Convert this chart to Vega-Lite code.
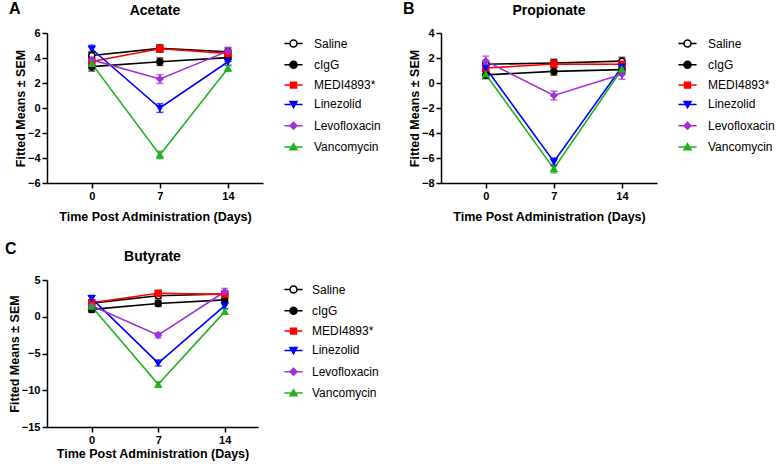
{
  "$schema": "https://vega.github.io/schema/vega-lite/v6.json",
  "background": "white",
  "padding": {"left": 5, "top": 1, "right": 0, "bottom": 2},
  "datasets": {
    "acetate": [
      {"series": "Saline", "day": 0, "mean": 4.2, "sem": 0.3},
      {"series": "Saline", "day": 7, "mean": 4.77, "sem": 0.3},
      {"series": "Saline", "day": 14, "mean": 4.5, "sem": 0.3},
      {"series": "cIgG", "day": 0, "mean": 3.31, "sem": 0.35},
      {"series": "cIgG", "day": 7, "mean": 3.7, "sem": 0.3},
      {"series": "cIgG", "day": 14, "mean": 4.03, "sem": 0.3},
      {"series": "MEDI4893*", "day": 0, "mean": 3.72, "sem": 0.3},
      {"series": "MEDI4893*", "day": 7, "mean": 4.74, "sem": 0.25},
      {"series": "MEDI4893*", "day": 14, "mean": 4.37, "sem": 0.25},
      {"series": "Linezolid", "day": 0, "mean": 4.72, "sem": 0.3},
      {"series": "Linezolid", "day": 7, "mean": 0.0, "sem": 0.35},
      {"series": "Linezolid", "day": 14, "mean": 3.7, "sem": 0.3},
      {"series": "Levofloxacin", "day": 0, "mean": 3.85, "sem": 0.3},
      {"series": "Levofloxacin", "day": 7, "mean": 2.32, "sem": 0.35},
      {"series": "Levofloxacin", "day": 14, "mean": 4.55, "sem": 0.3},
      {"series": "Vancomycin", "day": 0, "mean": 3.55, "sem": 0.3},
      {"series": "Vancomycin", "day": 7, "mean": -3.76, "sem": 0.3},
      {"series": "Vancomycin", "day": 14, "mean": 3.18, "sem": 0.25}
    ],
    "propionate": [
      {"series": "Saline", "day": 0, "mean": 1.5, "sem": 0.3},
      {"series": "Saline", "day": 7, "mean": 1.6, "sem": 0.3},
      {"series": "Saline", "day": 14, "mean": 1.75, "sem": 0.3},
      {"series": "cIgG", "day": 0, "mean": 0.65, "sem": 0.3},
      {"series": "cIgG", "day": 7, "mean": 0.93, "sem": 0.3},
      {"series": "cIgG", "day": 14, "mean": 1.07, "sem": 0.3},
      {"series": "MEDI4893*", "day": 0, "mean": 1.2, "sem": 0.25},
      {"series": "MEDI4893*", "day": 7, "mean": 1.52, "sem": 0.25},
      {"series": "MEDI4893*", "day": 14, "mean": 1.5, "sem": 0.25},
      {"series": "Linezolid", "day": 0, "mean": 1.2, "sem": 0.3},
      {"series": "Linezolid", "day": 7, "mean": -6.3, "sem": 0.3},
      {"series": "Linezolid", "day": 14, "mean": 1.3, "sem": 0.3},
      {"series": "Levofloxacin", "day": 0, "mean": 1.75, "sem": 0.4},
      {"series": "Levofloxacin", "day": 7, "mean": -1.0, "sem": 0.35},
      {"series": "Levofloxacin", "day": 14, "mean": 0.7, "sem": 0.4},
      {"series": "Vancomycin", "day": 0, "mean": 0.7, "sem": 0.3},
      {"series": "Vancomycin", "day": 7, "mean": -6.85, "sem": 0.35},
      {"series": "Vancomycin", "day": 14, "mean": 1.1, "sem": 0.3}
    ],
    "butyrate": [
      {"series": "Saline", "day": 0, "mean": 1.85, "sem": 0.4},
      {"series": "Saline", "day": 7, "mean": 2.85, "sem": 0.4},
      {"series": "Saline", "day": 14, "mean": 3.1, "sem": 0.4},
      {"series": "cIgG", "day": 0, "mean": 1.0, "sem": 0.4},
      {"series": "cIgG", "day": 7, "mean": 1.8, "sem": 0.4},
      {"series": "cIgG", "day": 14, "mean": 2.3, "sem": 0.4},
      {"series": "MEDI4893*", "day": 0, "mean": 1.9, "sem": 0.35},
      {"series": "MEDI4893*", "day": 7, "mean": 3.2, "sem": 0.35},
      {"series": "MEDI4893*", "day": 14, "mean": 3.05, "sem": 0.35},
      {"series": "Linezolid", "day": 0, "mean": 2.5, "sem": 0.4},
      {"series": "Linezolid", "day": 7, "mean": -6.3, "sem": 0.4},
      {"series": "Linezolid", "day": 14, "mean": 1.5, "sem": 0.4},
      {"series": "Levofloxacin", "day": 0, "mean": 1.5, "sem": 0.35},
      {"series": "Levofloxacin", "day": 7, "mean": -2.5, "sem": 0.35},
      {"series": "Levofloxacin", "day": 14, "mean": 3.4, "sem": 0.45},
      {"series": "Vancomycin", "day": 0, "mean": 1.4, "sem": 0.35},
      {"series": "Vancomycin", "day": 7, "mean": -9.2, "sem": 0.35},
      {"series": "Vancomycin", "day": 14, "mean": 0.7, "sem": 0.35}
    ]
  },
  "spacing": 18,
  "vconcat": [
    {
      "spacing": 21,
      "hconcat": [
        {
          "width": 216, "height": 150,
          "title": {"text": "Acetate", "anchor": "middle", "frame": "group", "offset": 0, "dy": 31, "baseline": "bottom"},
          "layer": [
            {
              "data": {"name": "acetate"},
              "resolve": {"scale": {"color": "independent", "fill": "independent", "stroke": "independent", "shape": "independent"}},
              "encoding": {
                "x": {"field": "day", "type": "quantitative", "scale": {"domain": [-4.6, 17.6], "nice": false, "zero": false}, "axis": {"values": [0, 7, 14], "tickCount": 20, "format": "d", "title": "Time Post Administration  (Days)"}},
                "y": {"field": "mean", "type": "quantitative", "scale": {"domain": [-6, 6], "nice": false, "zero": false}, "axis": {"values": [-6, -4, -2, 0, 2, 4, 6], "tickCount": 20, "format": "d", "title": "Fitted  Means ± SEM", "titlePadding": 0}}
              },
              "layer": [
                {"mark": {"type": "line", "strokeWidth": 1.6}, "encoding": {"color": {"field": "series", "type": "nominal", "scale": {"domain": ["Saline", "cIgG", "MEDI4893*", "Linezolid", "Levofloxacin", "Vancomycin"], "range": ["#000000", "#000000", "#FF0000", "#0000FF", "#A030D8", "#20B020"]}, "legend": null}}},
                {"mark": {"type": "errorbar", "thickness": 1.5, "ticks": {"size": 7, "thickness": 1.5}}, "encoding": {"yError": {"field": "sem"}, "color": {"field": "series", "type": "nominal", "scale": {"domain": ["Saline", "cIgG", "MEDI4893*", "Linezolid", "Levofloxacin", "Vancomycin"], "range": ["#000000", "#000000", "#FF0000", "#0000FF", "#A030D8", "#20B020"]}, "legend": null}}},
                {"mark": {"type": "point", "filled": true, "size": 36, "strokeWidth": 1.5, "opacity": 1}, "encoding": {
                  "shape": {"field": "series", "type": "nominal", "scale": {"domain": ["Saline", "cIgG", "MEDI4893*", "Linezolid", "Levofloxacin", "Vancomycin"], "range": ["circle", "circle", "square", "triangle-down", "diamond", "triangle-up"]}, "legend": null},
                  "fill": {"field": "series", "type": "nominal", "scale": {"domain": ["Saline", "cIgG", "MEDI4893*", "Linezolid", "Levofloxacin", "Vancomycin"], "range": ["#FFFFFF", "#000000", "#FF0000", "#0000FF", "#A030D8", "#20B020"]}, "legend": null},
                  "stroke": {"field": "series", "type": "nominal", "scale": {"domain": ["Saline", "cIgG", "MEDI4893*", "Linezolid", "Levofloxacin", "Vancomycin"], "range": ["#000000", "#000000", "#FF0000", "#0000FF", "#A030D8", "#20B020"]}, "legend": null}
                }},
                {"transform": [{"filter": "datum.day < 0"}], "mark": {"type": "point", "filled": true, "size": 49, "strokeWidth": 1.5, "opacity": 1}, "encoding": {
                  "shape": {"field": "series", "type": "nominal", "scale": {"domain": ["Saline", "cIgG", "MEDI4893*", "Linezolid", "Levofloxacin", "Vancomycin"], "range": ["M-2.6,0H-1M1,0H2.6M1,0A1,1,0,1,1,-1,0A1,1,0,1,1,1,0Z", "M-2.6,0H2.6M1,0A1,1,0,1,1,-1,0A1,1,0,1,1,1,0Z", "M-2.6,0H2.6M-0.85,-0.85H0.85V0.85H-0.85Z", "M-2.6,0H2.6M-1,-0.8H1L0,0.95Z", "M-2.6,0H2.6M0,-1L1,0L0,1L-1,0Z", "M-2.6,0H2.6M0,-0.95L1,0.8H-1Z"]}, "legend": {"orient": "none", "legendX": 240.5, "legendY": 4.5, "title": null, "symbolSize": 49, "symbolStrokeWidth": 1.5, "labelOffset": 14.5, "rowPadding": 7.3}},
                  "fill": {"field": "series", "type": "nominal", "scale": {"domain": ["Saline", "cIgG", "MEDI4893*", "Linezolid", "Levofloxacin", "Vancomycin"], "range": ["#FFFFFF", "#000000", "#FF0000", "#0000FF", "#A030D8", "#20B020"]}, "legend": {"orient": "none", "legendX": 240.5, "legendY": 4.5, "title": null, "symbolSize": 49, "symbolStrokeWidth": 1.5, "labelOffset": 14.5, "rowPadding": 7.3}},
                  "stroke": {"field": "series", "type": "nominal", "scale": {"domain": ["Saline", "cIgG", "MEDI4893*", "Linezolid", "Levofloxacin", "Vancomycin"], "range": ["#000000", "#000000", "#FF0000", "#0000FF", "#A030D8", "#20B020"]}, "legend": {"orient": "none", "legendX": 240.5, "legendY": 4.5, "title": null, "symbolSize": 49, "symbolStrokeWidth": 1.5, "labelOffset": 14.5, "rowPadding": 7.3}}
                }}
              ]
            },
            {"data": {"values": [{"letter": "A"}]}, "mark": {"type": "text", "align": "left", "baseline": "top", "dx": -38, "dy": -32, "fontSize": 16, "fontWeight": "bold", "color": "black"}, "encoding": {"x": {"datum": -4.6, "type": "quantitative"}, "y": {"datum": 6, "type": "quantitative"}, "text": {"field": "letter"}}}
          ]
        },
        {
          "width": 216, "height": 150,
          "title": {"text": "Propionate", "anchor": "middle", "frame": "group", "offset": 0, "dy": 31, "baseline": "bottom"},
          "layer": [
            {
              "data": {"name": "propionate"},
              "resolve": {"scale": {"color": "independent", "fill": "independent", "stroke": "independent", "shape": "independent"}},
              "encoding": {
                "x": {"field": "day", "type": "quantitative", "scale": {"domain": [-4.6, 17.6], "nice": false, "zero": false}, "axis": {"values": [0, 7, 14], "tickCount": 20, "format": "d", "title": "Time Post Administration  (Days)"}},
                "y": {"field": "mean", "type": "quantitative", "scale": {"domain": [-8, 4], "nice": false, "zero": false}, "axis": {"values": [-8, -6, -4, -2, 0, 2, 4], "tickCount": 20, "format": "d", "title": "Fitted  Means ± SEM", "titlePadding": 0}}
              },
              "layer": [
                {"mark": {"type": "line", "strokeWidth": 1.6}, "encoding": {"color": {"field": "series", "type": "nominal", "scale": {"domain": ["Saline", "cIgG", "MEDI4893*", "Linezolid", "Levofloxacin", "Vancomycin"], "range": ["#000000", "#000000", "#FF0000", "#0000FF", "#A030D8", "#20B020"]}, "legend": null}}},
                {"mark": {"type": "errorbar", "thickness": 1.5, "ticks": {"size": 7, "thickness": 1.5}}, "encoding": {"yError": {"field": "sem"}, "color": {"field": "series", "type": "nominal", "scale": {"domain": ["Saline", "cIgG", "MEDI4893*", "Linezolid", "Levofloxacin", "Vancomycin"], "range": ["#000000", "#000000", "#FF0000", "#0000FF", "#A030D8", "#20B020"]}, "legend": null}}},
                {"mark": {"type": "point", "filled": true, "size": 36, "strokeWidth": 1.5, "opacity": 1}, "encoding": {
                  "shape": {"field": "series", "type": "nominal", "scale": {"domain": ["Saline", "cIgG", "MEDI4893*", "Linezolid", "Levofloxacin", "Vancomycin"], "range": ["circle", "circle", "square", "triangle-down", "diamond", "triangle-up"]}, "legend": null},
                  "fill": {"field": "series", "type": "nominal", "scale": {"domain": ["Saline", "cIgG", "MEDI4893*", "Linezolid", "Levofloxacin", "Vancomycin"], "range": ["#FFFFFF", "#000000", "#FF0000", "#0000FF", "#A030D8", "#20B020"]}, "legend": null},
                  "stroke": {"field": "series", "type": "nominal", "scale": {"domain": ["Saline", "cIgG", "MEDI4893*", "Linezolid", "Levofloxacin", "Vancomycin"], "range": ["#000000", "#000000", "#FF0000", "#0000FF", "#A030D8", "#20B020"]}, "legend": null}
                }},
                {"transform": [{"filter": "datum.day < 0"}], "mark": {"type": "point", "filled": true, "size": 49, "strokeWidth": 1.5, "opacity": 1}, "encoding": {
                  "shape": {"field": "series", "type": "nominal", "scale": {"domain": ["Saline", "cIgG", "MEDI4893*", "Linezolid", "Levofloxacin", "Vancomycin"], "range": ["M-2.6,0H-1M1,0H2.6M1,0A1,1,0,1,1,-1,0A1,1,0,1,1,1,0Z", "M-2.6,0H2.6M1,0A1,1,0,1,1,-1,0A1,1,0,1,1,1,0Z", "M-2.6,0H2.6M-0.85,-0.85H0.85V0.85H-0.85Z", "M-2.6,0H2.6M-1,-0.8H1L0,0.95Z", "M-2.6,0H2.6M0,-1L1,0L0,1L-1,0Z", "M-2.6,0H2.6M0,-0.95L1,0.8H-1Z"]}, "legend": {"orient": "none", "legendX": 240.5, "legendY": 4.5, "title": null, "symbolSize": 49, "symbolStrokeWidth": 1.5, "labelOffset": 14.5, "rowPadding": 7.3}},
                  "fill": {"field": "series", "type": "nominal", "scale": {"domain": ["Saline", "cIgG", "MEDI4893*", "Linezolid", "Levofloxacin", "Vancomycin"], "range": ["#FFFFFF", "#000000", "#FF0000", "#0000FF", "#A030D8", "#20B020"]}, "legend": {"orient": "none", "legendX": 240.5, "legendY": 4.5, "title": null, "symbolSize": 49, "symbolStrokeWidth": 1.5, "labelOffset": 14.5, "rowPadding": 7.3}},
                  "stroke": {"field": "series", "type": "nominal", "scale": {"domain": ["Saline", "cIgG", "MEDI4893*", "Linezolid", "Levofloxacin", "Vancomycin"], "range": ["#000000", "#000000", "#FF0000", "#0000FF", "#A030D8", "#20B020"]}, "legend": {"orient": "none", "legendX": 240.5, "legendY": 4.5, "title": null, "symbolSize": 49, "symbolStrokeWidth": 1.5, "labelOffset": 14.5, "rowPadding": 7.3}}
                }}
              ]
            },
            {"data": {"values": [{"letter": "B"}]}, "mark": {"type": "text", "align": "left", "baseline": "top", "dx": -38, "dy": -32, "fontSize": 16, "fontWeight": "bold", "color": "black"}, "encoding": {"x": {"datum": -4.6, "type": "quantitative"}, "y": {"datum": 4, "type": "quantitative"}, "text": {"field": "letter"}}}
          ]
        }
      ]
    },
    {
      "width": 211, "height": 147,
      "title": {"text": "Butyrate", "anchor": "middle", "frame": "group", "offset": 0, "dy": 37, "baseline": "bottom"},
      "layer": [
        {
          "data": {"name": "butyrate"},
          "resolve": {"scale": {"color": "independent", "fill": "independent", "stroke": "independent", "shape": "independent"}},
          "encoding": {
            "x": {"field": "day", "type": "quantitative", "scale": {"domain": [-4.7, 17.5], "nice": false, "zero": false}, "axis": {"values": [0, 7, 14], "tickCount": 20, "format": "d", "title": "Time Post Administration  (Days)", "titlePadding": 2}},
            "y": {"field": "mean", "type": "quantitative", "scale": {"domain": [-15, 5], "nice": false, "zero": false}, "axis": {"values": [-15, -10, -5, 0, 5], "tickCount": 20, "format": "d", "title": "Fitted  Means ± SEM", "titlePadding": 0}}
          },
          "layer": [
            {"mark": {"type": "line", "strokeWidth": 1.6}, "encoding": {"color": {"field": "series", "type": "nominal", "scale": {"domain": ["Saline", "cIgG", "MEDI4893*", "Linezolid", "Levofloxacin", "Vancomycin"], "range": ["#000000", "#000000", "#FF0000", "#0000FF", "#A030D8", "#20B020"]}, "legend": null}}},
            {"mark": {"type": "errorbar", "thickness": 1.5, "ticks": {"size": 7, "thickness": 1.5}}, "encoding": {"yError": {"field": "sem"}, "color": {"field": "series", "type": "nominal", "scale": {"domain": ["Saline", "cIgG", "MEDI4893*", "Linezolid", "Levofloxacin", "Vancomycin"], "range": ["#000000", "#000000", "#FF0000", "#0000FF", "#A030D8", "#20B020"]}, "legend": null}}},
            {"mark": {"type": "point", "filled": true, "size": 36, "strokeWidth": 1.5, "opacity": 1}, "encoding": {
              "shape": {"field": "series", "type": "nominal", "scale": {"domain": ["Saline", "cIgG", "MEDI4893*", "Linezolid", "Levofloxacin", "Vancomycin"], "range": ["circle", "circle", "square", "triangle-down", "diamond", "triangle-up"]}, "legend": null},
              "fill": {"field": "series", "type": "nominal", "scale": {"domain": ["Saline", "cIgG", "MEDI4893*", "Linezolid", "Levofloxacin", "Vancomycin"], "range": ["#FFFFFF", "#000000", "#FF0000", "#0000FF", "#A030D8", "#20B020"]}, "legend": null},
              "stroke": {"field": "series", "type": "nominal", "scale": {"domain": ["Saline", "cIgG", "MEDI4893*", "Linezolid", "Levofloxacin", "Vancomycin"], "range": ["#000000", "#000000", "#FF0000", "#0000FF", "#A030D8", "#20B020"]}, "legend": null}
            }},
            {"transform": [{"filter": "datum.day < 0"}], "mark": {"type": "point", "filled": true, "size": 49, "strokeWidth": 1.5, "opacity": 1}, "encoding": {
              "shape": {"field": "series", "type": "nominal", "scale": {"domain": ["Saline", "cIgG", "MEDI4893*", "Linezolid", "Levofloxacin", "Vancomycin"], "range": ["M-2.6,0H-1M1,0H2.6M1,0A1,1,0,1,1,-1,0A1,1,0,1,1,1,0Z", "M-2.6,0H2.6M1,0A1,1,0,1,1,-1,0A1,1,0,1,1,1,0Z", "M-2.6,0H2.6M-0.85,-0.85H0.85V0.85H-0.85Z", "M-2.6,0H2.6M-1,-0.8H1L0,0.95Z", "M-2.6,0H2.6M0,-1L1,0L0,1L-1,0Z", "M-2.6,0H2.6M0,-0.95L1,0.8H-1Z"]}, "legend": {"orient": "none", "legendX": 240.5, "legendY": 3.5, "title": null, "symbolSize": 49, "symbolStrokeWidth": 1.5, "labelOffset": 12.5, "rowPadding": 7.3}},
              "fill": {"field": "series", "type": "nominal", "scale": {"domain": ["Saline", "cIgG", "MEDI4893*", "Linezolid", "Levofloxacin", "Vancomycin"], "range": ["#FFFFFF", "#000000", "#FF0000", "#0000FF", "#A030D8", "#20B020"]}, "legend": {"orient": "none", "legendX": 240.5, "legendY": 3.5, "title": null, "symbolSize": 49, "symbolStrokeWidth": 1.5, "labelOffset": 12.5, "rowPadding": 7.3}},
              "stroke": {"field": "series", "type": "nominal", "scale": {"domain": ["Saline", "cIgG", "MEDI4893*", "Linezolid", "Levofloxacin", "Vancomycin"], "range": ["#000000", "#000000", "#FF0000", "#0000FF", "#A030D8", "#20B020"]}, "legend": {"orient": "none", "legendX": 240.5, "legendY": 3.5, "title": null, "symbolSize": 49, "symbolStrokeWidth": 1.5, "labelOffset": 12.5, "rowPadding": 7.3}}
            }}
          ]
        },
        {"data": {"values": [{"letter": "C"}]}, "mark": {"type": "text", "align": "left", "baseline": "top", "dx": -42, "dy": -39, "fontSize": 16, "fontWeight": "bold", "color": "black"}, "encoding": {"x": {"datum": -4.7, "type": "quantitative"}, "y": {"datum": 5, "type": "quantitative"}, "text": {"field": "letter"}}}
      ]
    }
  ],
  "config": {
    "font": "Liberation Sans",
    "view": {"stroke": null},
    "axis": {"grid": false, "labelOverlap": false, "minExtent": 0, "domainColor": "black", "domainWidth": 1.5, "tickColor": "black", "tickWidth": 1.5, "tickSize": 5, "labelPadding": 2, "labelFont": "Liberation Sans", "labelFontSize": 11, "labelFontWeight": "bold", "labelColor": "black", "titleFont": "Liberation Sans", "titleFontSize": 12.5, "titleFontWeight": "bold", "titleColor": "black"},
    "axisX": {"titlePadding": 9, "labelPadding": 2},
    "axisY": {"titlePadding": 2, "minExtent": 0},
    "legend": {"labelFont": "Liberation Sans", "labelFontSize": 12, "labelColor": "black", "padding": 0},
    "title": {"font": "Liberation Sans", "fontSize": 14, "fontWeight": "bold", "color": "black"}
  }
}
